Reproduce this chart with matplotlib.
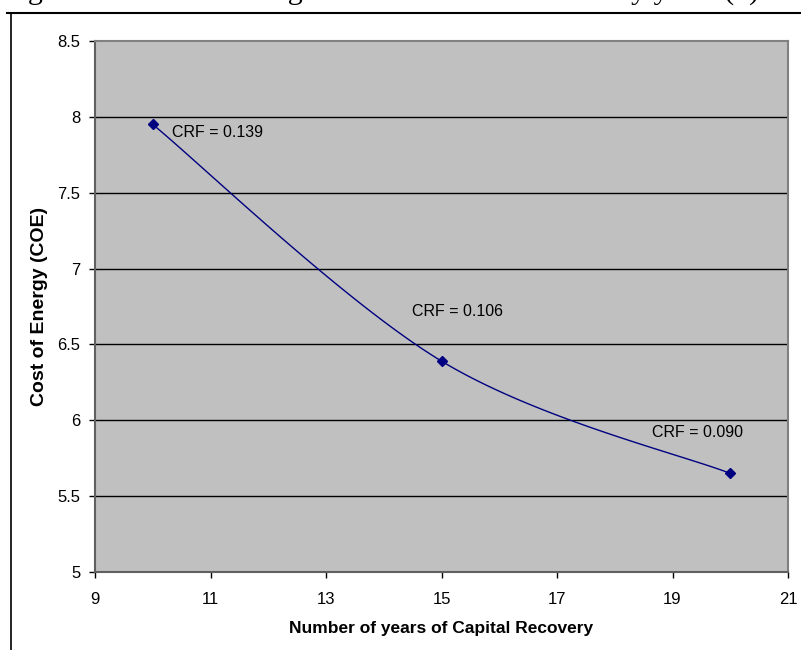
import numpy as np
import matplotlib
matplotlib.use("Agg")
import matplotlib.pyplot as plt
from matplotlib.lines import Line2D

# capital recovery period (years) vs cost of energy
years = [10, 15, 20]
coe = [7.95, 6.39, 5.65]
crf_labels = ["CRF = 0.139", "CRF = 0.106", "CRF = 0.090"]
label_pos = [(10.33, 7.90), (14.49, 6.72), (18.65, 5.92)]

x_ticks = [9, 11, 13, 15, 17, 19, 21]
y_ticks = [5, 5.5, 6, 6.5, 7, 7.5, 8, 8.5]


def smooth_curve(xs, ys, n=60):
    """Excel-style smoothed line: Catmull-Rom Bezier through the points."""
    pts = np.column_stack([xs, ys]).astype(float)
    ext = np.vstack([pts[0], pts, pts[-1]])
    out = []
    for i in range(1, len(ext) - 2):
        p0, p1, p2, p3 = ext[i - 1], ext[i], ext[i + 1], ext[i + 2]
        c1 = p1 + (p2 - p0) / 6.0
        c2 = p2 - (p3 - p1) / 6.0
        t = np.linspace(0, 1, n)[:, None]
        seg = ((1 - t) ** 3) * p1 + 3 * ((1 - t) ** 2) * t * c1 \
            + 3 * (1 - t) * t ** 2 * c2 + t ** 3 * p2
        out.append(seg if i == 1 else seg[1:])
    curve = np.vstack(out)
    return curve[:, 0], curve[:, 1]


plt.rcParams["font.family"] = ["Liberation Sans", "DejaVu Sans"]

W, H = 801, 650
fig = plt.figure(figsize=(W / 100, H / 100), dpi=100)
ax = fig.add_axes([95 / W, 1 - 572 / H, (788 - 95) / W, (572 - 41) / H])
ax.set_facecolor("#C0C0C0")

for y in y_ticks[1:-1]:
    ax.axhline(y, color="black", lw=1.0, zorder=1)

sx, sy = smooth_curve(years, coe)
ax.plot(sx, sy, color="#000080", lw=1.0, zorder=3)
ax.plot(years, coe, ls="none", marker="D", ms=5.5, color="#000080", zorder=4)

for txt, (tx, ty) in zip(crf_labels, label_pos):
    ax.text(tx, ty, txt, fontsize=11.5, va="center", ha="left", zorder=5)

ax.set_xlim(9, 21)
ax.set_ylim(5, 8.5)
ax.set_xticks(x_ticks)
ax.set_yticks(y_ticks)
ax.set_yticklabels([f"{v:g}" for v in y_ticks])
ax.tick_params(labelsize=12, length=4.5, width=1, color="black", direction="out")
ax.tick_params(axis="x", pad=10)
ax.tick_params(axis="y", pad=6)

for side in ("left", "bottom", "right", "top"):
    ax.spines[side].set_color("#808080")
    ax.spines[side].set_linewidth(1.5)
ax.spines["left"].set_color("#606060")
ax.spines["bottom"].set_color("#606060")

ax.set_xlabel("Number of years of Capital Recovery", fontsize=12.5,
              fontweight="bold")
ax.set_ylabel("Cost of Energy (COE)", fontsize=14, fontweight="bold")
ax.xaxis.set_label_coords(0.5, (572 - 628) / 531)
ax.xaxis.label.set_va("center")
ax.yaxis.set_label_coords((40 - 95) / 693, 0.5)
ax.yaxis.label.set_va("center")

# outer frame of the chart object
fig.add_artist(Line2D([7 / W, 1], [1 - 13 / H, 1 - 13 / H], color="black", lw=1.5))
fig.add_artist(Line2D([11 / W, 11 / W], [0, 1 - 13 / H], color="black", lw=1.2))

# caption line above, cut by the page edge
fig.text(3 / W, 1.0,
         "Figure 4: Plot of COE against the number of recovery years (n) of capital",
         fontsize=21.5, family=["Liberation Serif", "DejaVu Serif"],
         va="baseline", ha="left")

fig.savefig("out.png", dpi=100)
